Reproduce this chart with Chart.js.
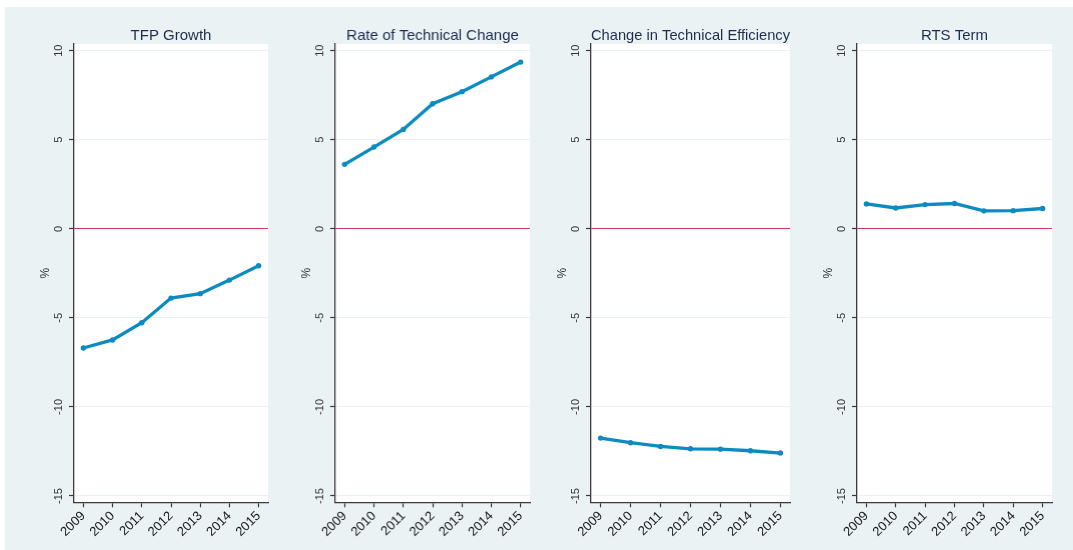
<!DOCTYPE html>
<html>
<head>
<meta charset="utf-8">
<script src="https://cdn.jsdelivr.net/npm/chart.js@4/dist/chart.umd.min.js"></script>
<style>
  html, body { margin: 0; padding: 0; background: #ffffff; }
  body { width: 1073px; height: 550px; position: relative; overflow: hidden; }
  #frame { position: absolute; left: 5px; top: 7px; width: 1068px; height: 543px; background: #eaf2f3; }
  canvas { position: absolute; top: 0; }
</style>
</head>
<body>
<div id="frame"></div>
<canvas id="c0"></canvas>
<canvas id="c1"></canvas>
<canvas id="c2"></canvas>
<canvas id="c3"></canvas>
<script>
// Years on the horizontal axis
const years = [2009, 2010, 2011, 2012, 2013, 2014, 2015];

// Decomposition of TFP growth (%), one series per panel
const tfpGrowth      = [-6.69, -6.24, -5.27, -3.89, -3.64, -2.88, -2.07];
const techChange     = [3.62, 4.59, 5.58, 7.02, 7.70, 8.53, 9.36];
const techEfficiency = [-11.75, -12.01, -12.22, -12.35, -12.37, -12.46, -12.59];
const rtsTerm        = [1.40, 1.17, 1.36, 1.42, 1.01, 1.02, 1.14];

// Panel titles and y-axis tick labels
const panelTitles = ["TFP Growth", "Rate of Technical Change", "Change in Technical Efficiency", "RTS Term"];
const yTicks = [-15, -10, -5, 0, 5, 10];

// Layout of each plot region: left axis position and right edge (px)
const plotLeft  = [74, 335, 591, 857];
const plotRight = [268, 529.5, 790, 1052];
const axisWidth = 70;
const rightPad = 4;

Chart.defaults.font.family = "'Liberation Sans', Arial, Helvetica, sans-serif";
Chart.defaults.color = "#333333";

const lineColor = "#0b8bc0";
const zeroColor = "#d23a5c";
const gridColor = "#e9f1f3";
const axisColor = "#3a3a3a";

// Fill the plot region white
const plotBackground = {
  id: "plotBackground",
  beforeDraw(chart) {
    const a = chart.chartArea;
    const ctx = chart.ctx;
    ctx.save();
    ctx.fillStyle = "#ffffff";
    ctx.fillRect(a.left, a.top, a.right - a.left, a.bottom - a.top);
    ctx.restore();
  }
};

const seriesList = [tfpGrowth, techChange, techEfficiency, rtsTerm];

seriesList.forEach((series, i) => {
  const canvas = document.getElementById("c" + i);
  const w = axisWidth + (plotRight[i] - plotLeft[i]) + rightPad;
  canvas.style.left = (plotLeft[i] - axisWidth) + "px";
  canvas.style.width = w + "px";
  canvas.style.height = "550px";
  canvas.width = w;
  canvas.height = 550;

  new Chart(canvas, {
    type: "line",
    data: {
      datasets: [{
        data: years.map((yr, k) => ({ x: yr, y: series[k] })),
        borderColor: lineColor,
        backgroundColor: lineColor,
        borderWidth: 3.3,
        pointRadius: 2.7,
        pointBorderWidth: 0,
        pointHoverRadius: 2.7,
        tension: 0,
        fill: false
      }]
    },
    options: {
      responsive: false,
      animation: false,
      events: [],
      layout: { padding: { left: 0, right: rightPad, top: 0, bottom: 0 } },
      plugins: {
        legend: { display: false },
        tooltip: { enabled: false },
        title: {
          display: true,
          text: panelTitles[i],
          fullSize: false,
          color: "#1e2d4e",
          font: { size: 15, weight: "normal", lineHeight: 1 },
          padding: { top: 28.5, bottom: 0.5 }
        }
      },
      scales: {
        x: {
          type: "linear",
          min: 2008.68,
          max: 2015.32,
          afterBuildTicks: s => { s.ticks = years.map(v => ({ value: v })); },
          afterFit: s => { s.height = 47.7; },
          grid: { drawOnChartArea: false, drawTicks: true, tickLength: 5, tickColor: axisColor, tickWidth: 1.2 },
          border: { display: true, color: axisColor, width: 1.3 },
          ticks: {
            autoSkip: false,
            minRotation: 45,
            maxRotation: 45,
            padding: 1,
            color: "#1a1a1a",
            font: { size: 13 },
            callback: v => String(v)
          }
        },
        y: {
          type: "linear",
          min: -15.354,
          max: 10.376,
          afterBuildTicks: s => { s.ticks = yTicks.map(v => ({ value: v })); },
          afterFit: s => { s.width = axisWidth; },
          grid: {
            drawOnChartArea: true,
            color: c => (c.tick && c.tick.value === 0) ? zeroColor : gridColor,
            lineWidth: 1,
            tickLength: 5,
            tickColor: axisColor,
            tickWidth: 1.2
          },
          border: { display: true, color: axisColor, width: 1.3 },
          ticks: {
            minRotation: 90,
            maxRotation: 90,
            crossAlign: "center",
            padding: 2.5,
            color: "#333333",
            font: { size: 11 },
            callback: v => String(v)
          },
          title: {
            display: true,
            text: "%",
            color: "#333333",
            font: { size: 12 },
            padding: { top: 34.5, bottom: 0 }
          }
        }
      }
    },
    plugins: [plotBackground]
  });
});
</script>
</body>
</html>
